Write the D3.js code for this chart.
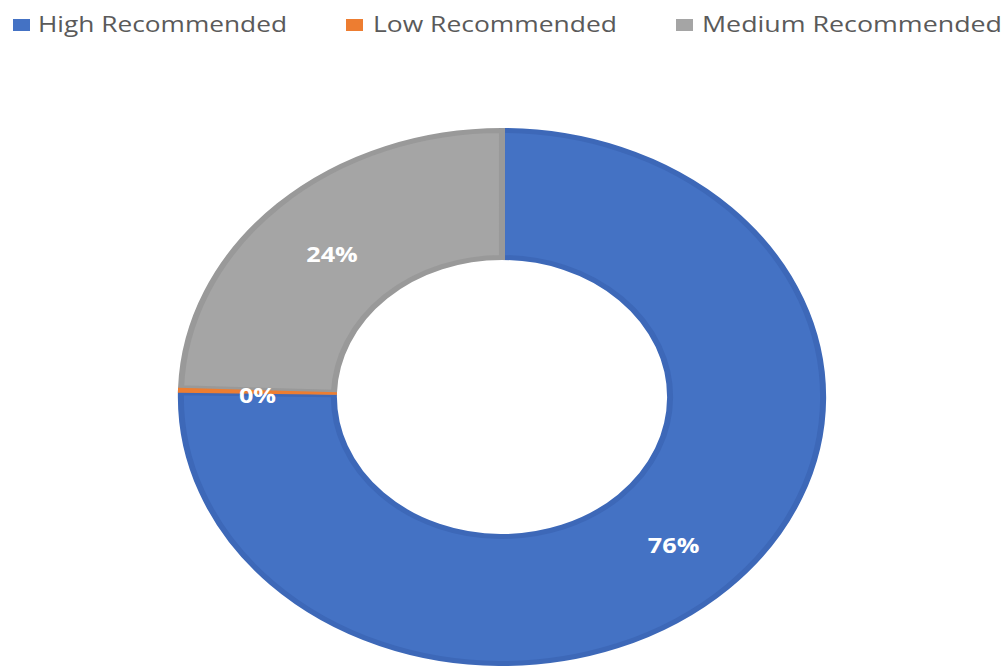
<!DOCTYPE html>
<html>
<head>
<meta charset="utf-8">
<script src="https://cdn.jsdelivr.net/npm/d3@7"></script>
<style>
  body { margin: 0; background: #fff; }
  svg { display: block; }
</style>
</head>
<body>
<div id="content"></div>
<script>
// chart data
var categories = ["High Recommended", "Low Recommended", "Medium Recommended"];
var values = [75.25, 0.3, 24.45];
var pctLabels = ["76%", "0%", "24%"];
var fills = ["#4472C4", "#ED7D31", "#A5A5A5"];
var edges = ["#3D68B8", "#ED7D31", "#999999"];

var width = 1008, height = 671;

var svg = d3.select("#content")
  .append("svg")
    .attr("width", width)
    .attr("height", height);

// legend
var legendX = [13, 346, 676];
var legendTextX = [38, 373, 702];
var legendTextW = [249, 244, 300];

var legend = svg.append("g").attr("class", "legend");
legend.selectAll("rect")
  .data(categories)
  .enter()
  .append("rect")
    .attr("x", function(d, i) { return legendX[i]; })
    .attr("y", 19)
    .attr("width", 17)
    .attr("height", 12)
    .style("fill", function(d, i) { return fills[i]; });

legend.selectAll("text")
  .data(categories)
  .enter()
  .append("text")
    .attr("x", function(d, i) { return legendTextX[i]; })
    .attr("y", 32)
    .attr("textLength", function(d, i) { return legendTextW[i]; })
    .attr("lengthAdjust", "spacingAndGlyphs")
    .style("font-family", "'Open Sans', 'DejaVu Sans', sans-serif")
    .style("font-size", "21px")
    .style("fill", "#5a5a5a")
    .text(function(d) { return d; });

// donut (the reference is stretched horizontally, so scale x)
var cx = 502, cy = 397;
var rOuter = 269, rInner = 137, sx = 1.205;

var pie = d3.pie().sort(null).value(function(d) { return d; });
var arcs = pie(values);

var arc = d3.arc()
  .outerRadius(rOuter - 2.5)
  .innerRadius(rInner + 2.5);
var arcFlat = d3.arc()
  .outerRadius(rOuter)
  .innerRadius(rInner);

var g = svg.append("g")
  .attr("transform", "translate(" + cx + "," + cy + ") scale(" + sx + ",1)");

g.selectAll("path.slice")
  .data(arcs.filter(function(d) { return d.index !== 1; }))
  .enter()
  .append("path")
    .attr("class", "slice")
    .attr("d", arc)
    .style("fill", function(d) { return fills[d.index]; })
    .style("stroke", function(d) { return edges[d.index]; })
    .style("stroke-width", 5)
    .style("stroke-linejoin", "miter");

// the tiny slice goes on top without border
g.selectAll("path.tiny")
  .data(arcs.filter(function(d) { return d.index === 1; }))
  .enter()
  .append("path")
    .attr("class", "tiny")
    .attr("d", arcFlat)
    .style("fill", function(d) { return fills[d.index]; });

// percent labels
svg.selectAll("text.pct")
  .data(arcs)
  .enter()
  .append("text")
    .attr("class", "pct")
    .attr("transform", function(d) {
      var c = arcFlat.centroid(d);
      return "translate(" + (cx + c[0] * sx) + "," + (cy + c[1] + 3) + ") scale(1.2,1)";
    })
    .attr("text-anchor", "middle")
    .attr("dominant-baseline", "central")
    .style("font-family", "'Open Sans', 'DejaVu Sans', sans-serif")
    .style("font-weight", "bold")
    .style("font-size", "21px")
    .style("fill", "#fff")
    .text(function(d) { return pctLabels[d.index]; });
</script>
</body>
</html>
